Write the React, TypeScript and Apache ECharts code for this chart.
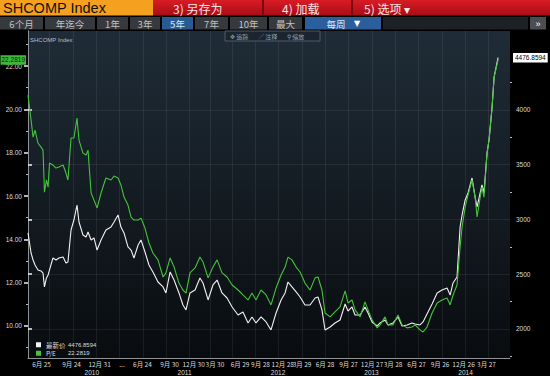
import React, { useEffect, useRef } from "react";
import * as echarts from "echarts";

// x = week index from the first weekly close of the 5-year window
const weeks = [0, 1.7, 2.8, 3.9, 5.5, 7.2, 8.3, 9.1, 10.2, 11.1, 11.9, 13.8, 15.5, 17.1, 19.4, 21.0, 22.1, 23.8, 25.4, 27.1,
  28.2, 30.4, 32.1, 33.2, 34.9, 36.5, 38.2, 40.4, 43.1, 45.9, 47.6, 49.8, 51.4, 53.1, 55.3, 57.0, 58.6, 60.9, 62.5, 64.7,
  66.9, 69.1, 71.9, 74.7, 76.3, 78.6, 80.8, 83.5, 85.7, 87.4, 89.6, 92.4, 95.1, 96.8, 99.6, 102.3, 104.6, 107.3, 110.1, 112.9,
  116.2, 118.9, 121.7, 123.9, 126.1, 128.9, 131.7, 134.4, 137.2, 140.0, 142.2, 143.8, 146.0, 148.3, 150.5, 153.2, 156.0, 158.8, 160.4, 162.6,
  164.3, 167.1, 169.8, 172.6, 175.4, 177.0, 179.2, 180.9, 183.7, 186.4, 188.1, 190.3, 193.1, 194.7, 197.5, 199.1, 201.9, 204.7, 206.9, 209.7,
  212.4, 214.1, 216.8, 218.5, 220.7, 223.5, 226.3, 229.0, 231.8, 233.5, 235.1, 237.3, 239.0, 240.1, 241.8, 243.4, 245.6, 247.3, 248.4, 250.1,
  251.1, 252.2, 253.9, 255.0, 256.7, 257.8, 260.0];

const peRatio = [20.66, 19.51, 18.72, 19.04, 18.45, 18.26, 18.12, 16.18, 16.74, 16.41, 17.52, 17.43, 17.29, 17.34, 17.43, 17.06, 16.74, 18.68, 18.68, 19.60,
  18.58, 17.98, 17.89, 18.12, 16.14, 15.81, 15.45, 16.14, 16.83, 16.74, 16.92, 16.83, 16.51, 15.95, 15.58, 15.03, 14.89, 14.89, 14.98, 14.52,
  13.83, 13.37, 13.05, 12.26, 12.45, 13.14, 12.72, 11.98, 11.66, 11.52, 12.45, 12.68, 13.18, 12.95, 12.22, 12.72, 13.05, 12.45, 12.26, 11.89,
  11.66, 11.43, 11.20, 11.52, 11.20, 11.66, 11.43, 10.97, 11.75, 12.35, 12.72, 13.18, 13.05, 12.72, 12.49, 11.98, 11.66, 12.22, 12.26, 11.66,
  10.60, 10.42, 10.65, 10.88, 11.62, 11.06, 11.20, 10.74, 10.42, 11.11, 10.74, 10.28, 9.91, 10.05, 10.42, 10.05, 10.05, 10.51, 10.05, 9.91,
  9.95, 10.05, 9.82, 9.72, 9.95, 10.60, 11.06, 11.20, 11.29, 10.97, 11.43, 11.89, 13.65, 14.57, 15.49, 16.05, 16.74, 15.95, 15.03, 15.95,
  16.41, 15.95, 17.98, 18.58, 20.11, 21.49, 22.2819];

const lastPrice = [2877, 2694, 2630, 2584, 2539, 2530, 2511, 2384, 2466, 2493, 2539, 2648, 2630, 2648, 2658, 2603, 2612, 2904, 2995, 3132,
  2977, 2858, 2840, 2886, 2813, 2831, 2721, 2813, 2904, 2931, 2977, 3041, 2931, 2877, 2749, 2721, 2648, 2767, 2813, 2703,
  2584, 2521, 2429, 2384, 2329, 2521, 2447, 2329, 2219, 2174, 2329, 2356, 2466, 2420, 2265, 2402, 2447, 2329, 2283, 2201,
  2128, 2155, 2055, 2110, 2055, 2110, 2064, 1991, 2146, 2265, 2329, 2429, 2384, 2338, 2292, 2219, 2219, 2283, 2292, 2174,
  1991, 2018, 2055, 2082, 2228, 2164, 2201, 2128, 2128, 2201, 2146, 2064, 2027, 2055, 2082, 2037, 2055, 2110, 2027, 2037,
  2055, 2046, 2037, 2064, 2137, 2228, 2329, 2356, 2374, 2310, 2420, 2475, 2931, 3041, 3178, 3242, 3379, 3205, 3114, 3242,
  3315, 3242, 3607, 3726, 4027, 4301, 4476.8594];

const dateTickWeeks = [7.5, 24.1, 39.6, 52.0, 63.3, 78.3, 91.6, 103.4, 117.3, 128.6, 140.9, 151.6, 164.3, 177.3, 190.3, 201.9, 214.9, 227.9, 240.9, 253.6];
const dateTickLabels = ["6月 25", "9月 24", "12月 31", "...", "6月 24", "9月 30", "12月 30", "3月 30", "6月 29", "9月 28", "12月 28", "3月 29", "6月 28", "9月 27", "12月 27", "3月 28", "6月 27", "9月 26", "12月 26", "3月 27"];
const yearTickWeeks = [35.3, 86.6, 138.3, 190.0, 242.0];
const yearTickLabels = ["2010", "2011", "2012", "2013", "2014"];
const gridWeeks = [11.6, 24.9, 37.6, 50.3, 63.6, 76.3, 89.1, 100.7, 112.9, 125.6, 138.3, 151.6, 164.3, 177.0, 190.3, 203.0, 215.8, 229.0, 241.8, 254.5];

const peTicks = [10, 12, 14, 16, 18, 20, 22];
const peMinorTicks = [9, 11, 13, 15, 17, 19, 21, 23];
const priceTicks = [2000, 2500, 3000, 3500, 4000];
const priceMinorTicks = [1750, 2250, 2750, 3250, 3750, 4250];

const rangeButtons = ["6个月", "年迄今", "1年", "3年", "5年", "7年", "10年", "最大"];
const menuItems = ["3) 另存为", "4) 加载", "5) 选项 ▾"];

const SANS = "'Liberation Sans', 'Noto Sans CJK SC', sans-serif";
const CJK = "'Noto Sans CJK SC', 'Liberation Sans', sans-serif";

const pick = (vals: number[], labels: string[]) => (v: number) => {
  let best = 0;
  for (let i = 1; i < vals.length; i++) if (Math.abs(vals[i] - v) < Math.abs(vals[best] - v)) best = i;
  return labels[best];
};

function buildGraphic() {
  const els: any[] = [];
  const mid = { verticalAlign: "middle", textVerticalAlign: "middle" };
  const ctr = { align: "center", textAlign: "center", verticalAlign: "middle", textVerticalAlign: "middle" };
  // Title row
  els.push({ type: "rect", shape: { x: 0, y: 0, width: 153, height: 15.5 }, style: { fill: "#f6a020" } });
  els.push({ type: "text", x: 3, y: 8, style: { text: "SHCOMP Index", fill: "#111", fontSize: 14.5, fontFamily: SANS, ...mid } });
  els.push({
    type: "rect", shape: { x: 153, y: 0, width: 397, height: 15.5 },
    style: { fill: new echarts.graphic.LinearGradient(0, 0, 0, 1, [{ offset: 0, color: "#d81c26" }, { offset: 1, color: "#a80c16" }]) },
  });
  const menuX = [173, 282, 364];
  menuItems.forEach((t, i) => {
    els.push({ type: "text", x: menuX[i], y: 8, style: { text: t, fill: "#fbe3e3", fontSize: 12, fontFamily: CJK, ...mid } });
  });
  [262, 351].forEach((x) => els.push({ type: "rect", shape: { x, y: 0, width: 2, height: 15.5 }, style: { fill: "#7a0a10" } }));

  // Range buttons row
  const btnX: [number, number][] = [[0, 43], [45, 95], [97, 128], [130, 160], [162, 193], [195, 228], [230, 267], [269, 302]];
  rangeButtons.forEach((t, i) => {
    const [a, b] = btnX[i];
    const sel = i === 4;
    els.push({ type: "rect", shape: { x: a, y: 17, width: b - a, height: 12.5 }, style: { fill: sel ? "#285a94" : "#36393d" } });
    els.push({ type: "text", x: (a + b) / 2, y: 23.6, style: { text: t, fill: sel ? "#dde6f2" : "#c2c2c2", fontSize: 9.5, fontFamily: CJK, ...ctr } });
  });
  els.push({ type: "rect", shape: { x: 305, y: 17, width: 76, height: 12.5 }, style: { fill: "#2a5e9c" } });
  els.push({ type: "text", x: 336, y: 23.6, style: { text: "每周", fill: "#dde6f2", fontSize: 9.5, fontFamily: CJK, ...ctr } });
  els.push({ type: "text", x: 357, y: 23.6, style: { text: "▼", fill: "#ffffff", fontSize: 8, fontFamily: "'DejaVu Sans', sans-serif", ...ctr } });
  els.push({ type: "rect", shape: { x: 383, y: 17, width: 145, height: 12.5 }, style: { fill: "#1d2024" } });
  els.push({ type: "rect", shape: { x: 530, y: 17, width: 16, height: 12.5 }, style: { fill: "#4a4d51" } });
  els.push({ type: "text", x: 538, y: 23.6, style: { text: "»", fill: "#ffffff", fontSize: 9, fontFamily: SANS, ...ctr } });

  // In-plot decorations
  els.push({ type: "text", x: 30, y: 40, z: 20, style: { text: "SHCOMP Index", fill: "#b8bcc0", fontSize: 6, fontFamily: SANS, ...mid } });
  els.push({ type: "rect", z: 20, shape: { x: 225, y: 31, width: 95, height: 10 }, style: { fill: "#1b2530", stroke: "#505b66", lineWidth: 1 } });
  [["✥ 追踪", 230], ["∕ 注释", 258], ["⚲ 缩放", 287]].forEach(([t, x]) => {
    els.push({ type: "text", z: 21, x: x as number, y: 36, style: { text: t as string, fill: "#98a2aa", fontSize: 6, fontFamily: CJK, ...mid } });
  });
  return els;
}

export default function App() {
  const ref = useRef<HTMLDivElement>(null);
  useEffect(() => {
    if (!ref.current) return;
    const chart = echarts.init(ref.current, undefined, { renderer: "svg" });
    const X_MIN = 0, X_MAX = 266.6;
    const PE_MIN = 8.52, PE_MAX = 23.62;
    const PX_MIN = 1735, PX_MAX = 4721;
    const lastPE = peRatio[peRatio.length - 1];
    const lastPx = lastPrice[lastPrice.length - 1];
    const axisColor = "#8e9398";
    const labelColor = "#dcdcdc";
    const faint = "rgba(255,255,255,0.07)";
    const hidden = { color: "rgba(0,0,0,0)", width: 0 };

    chart.setOption({
      animation: false,
      backgroundColor: "#000000",
      textStyle: { fontFamily: SANS },
      grid: {
        left: 28, right: 40, top: 31, bottom: 18, show: true, borderWidth: 0,
        outerBoundsMode: "none",
        backgroundColor: new echarts.graphic.LinearGradient(0, 0, 0, 1, [
          { offset: 0, color: "#1f2c37" },
          { offset: 0.5, color: "#141c23" },
          { offset: 1, color: "#090c0f" },
        ]),
      },
      graphic: buildGraphic(),
      legend: {
        show: true, left: 31, top: 336, orient: "vertical", icon: "rect",
        itemWidth: 5, itemHeight: 5, itemGap: 1, selectedMode: false,
        data: ["最新价", "P/E"],
        formatter: (name: string) =>
          name === "最新价" ? `{n|最新价}{v|${lastPx.toFixed(4)}}` : `{n|P/E}{v|${lastPE.toFixed(4)}}`,
        textStyle: {
          color: labelColor, fontSize: 6.5, fontFamily: CJK, lineHeight: 7.5,
          rich: { n: { width: 22, fontSize: 6.5, lineHeight: 7.5, color: labelColor, fontFamily: CJK }, v: { fontSize: 6, lineHeight: 7.5, color: labelColor, fontFamily: SANS } },
        },
      },
      xAxis: [
        {
          type: "value", min: X_MIN, max: X_MAX, position: "bottom",
          axisLine: { show: true, lineStyle: { color: axisColor, width: 1 } },
          axisTick: { show: false },
          axisLabel: {
            customValues: dateTickWeeks, formatter: pick(dateTickWeeks, dateTickLabels),
            color: labelColor, fontSize: 6.5, margin: 3, fontFamily: CJK, hideOverlap: false,
          },
          splitLine: { show: false },
        },
        {
          type: "value", min: X_MIN, max: X_MAX, position: "bottom",
          axisLine: { show: false }, axisLabel: { show: false },
          axisTick: { show: false, customValues: gridWeeks },
          splitLine: { show: true, lineStyle: { color: faint, width: 1 } },
        },
        {
          type: "value", min: X_MIN, max: X_MAX, position: "bottom", offset: 8,
          axisLine: { show: false }, axisTick: { show: false },
          axisLabel: { customValues: yearTickWeeks, formatter: pick(yearTickWeeks, yearTickLabels), color: labelColor, fontSize: 6.5, margin: 3, hideOverlap: false },
          splitLine: { show: false },
        },
      ],
      yAxis: [
        {
          type: "value", position: "left", min: PE_MIN, max: PE_MAX,
          axisLine: { show: true, lineStyle: { color: axisColor } },
          axisTick: { show: true, customValues: peTicks, length: 4, lineStyle: { color: "#f0f0f0", width: 1.5 } },
          axisLabel: { customValues: peTicks, formatter: (v: number) => v.toFixed(2), color: labelColor, fontSize: 6.5, margin: 6 },
          splitLine: { show: false },
        },
        {
          type: "value", position: "right", min: PX_MIN, max: PX_MAX,
          axisLine: { show: true, lineStyle: { color: axisColor } },
          axisTick: { show: true, customValues: priceTicks, length: 4, lineStyle: { color: "#f0f0f0", width: 1.5 } },
          axisLabel: { customValues: priceTicks, formatter: (v: number) => String(v), color: labelColor, fontSize: 6.5, margin: 6 },
          splitLine: { show: true, lineStyle: { color: faint, width: 1 } },
        },
        {
          type: "value", position: "left", min: PE_MIN, max: PE_MAX,
          axisLine: { show: false }, axisLabel: { show: false },
          axisTick: { show: true, customValues: peMinorTicks, length: 2, lineStyle: { color: "#bbbbbb", width: 1 } },
          splitLine: { show: false },
        },
        {
          type: "value", position: "right", min: PX_MIN, max: PX_MAX,
          axisLine: { show: false }, axisLabel: { show: false },
          axisTick: { show: true, customValues: priceMinorTicks, length: 2, lineStyle: { color: "#bbbbbb", width: 1 } },
          splitLine: { show: false },
        },
      ],
      series: [
        {
          name: "最新价", type: "line", xAxisIndex: 0, yAxisIndex: 1,
          data: weeks.map((w, i) => [w, lastPrice[i]]),
          showSymbol: false, symbol: "none", z: 3,
          lineStyle: { color: "#f2f2f2", width: 1.1 }, itemStyle: { color: "#f2f2f2" },
          markLine: {
            silent: true, symbol: ["none", "none"], lineStyle: hidden, precision: 4,
            label: {
              show: true, position: "end", distance: 3,
              formatter: () => lastPx.toFixed(4),
              backgroundColor: "#ffffff", color: "#000000", fontSize: 6.5, padding: [2, 2, 1, 2], fontFamily: SANS,
            },
            data: [{ yAxis: lastPx }],
          },
        },
        {
          name: "P/E", type: "line", xAxisIndex: 0, yAxisIndex: 0,
          data: weeks.map((w, i) => [w, peRatio[i]]),
          showSymbol: false, symbol: "none", z: 4,
          lineStyle: { color: "#46c23c", width: 1.1 }, itemStyle: { color: "#46c23c" },
          markLine: {
            silent: true, symbol: ["none", "none"], lineStyle: hidden, precision: 4,
            label: {
              show: true, position: "start", distance: 2,
              formatter: () => lastPE.toFixed(4),
              backgroundColor: "#3cb83a", color: "#0a1f0a", fontSize: 6.5, padding: [2, 1, 1, 1], fontFamily: SANS,
            },
            data: [{ yAxis: lastPE }],
          },
        },
      ],
    });
    return () => chart.dispose();
  }, []);

  return (
    <div style={{ position: "fixed", left: 0, top: 0, width: 550, height: 376, background: "#000" }}>
      <div ref={ref} style={{ width: 550, height: 376 }} />
    </div>
  );
}
